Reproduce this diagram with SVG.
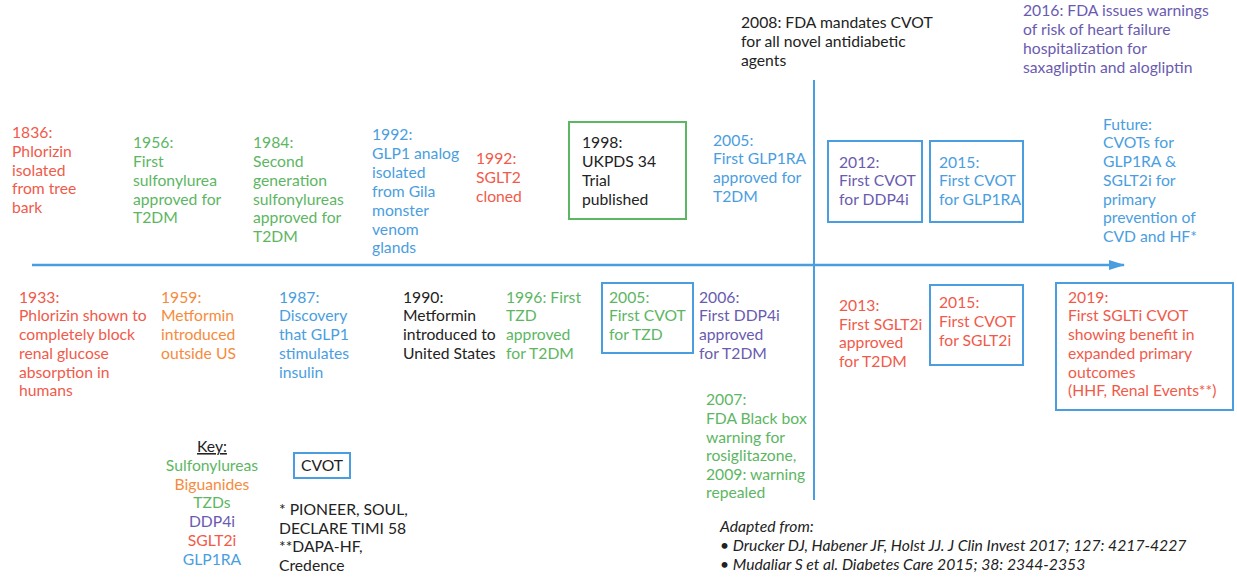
<svg xmlns="http://www.w3.org/2000/svg" width="1237" height="577" viewBox="0 0 1237 577">
<style>
text{font-family:Lato,"Noto Sans","Liberation Sans",sans-serif;font-size:15.7px}
.r{fill:#F15A4A}.g{fill:#5DB663}.o{fill:#F68B3D}.b{fill:#4A9EE0}.p{fill:#6A5BB0}.k{fill:#222}
.box{fill:none;stroke-width:2}
.bb{stroke:#4A9EE0}.gb{stroke:#5DB663}
.cit{font-style:italic;fill:#222}
</style>
<defs>
<marker id="ah" markerWidth="16" markerHeight="10" refX="15" refY="5" orient="auto" markerUnits="userSpaceOnUse">
<path d="M0,0 L16,5 L0,10 z" fill="#4A9EE0"/>
</marker>
</defs>
<rect width="1237" height="577" fill="#fff"/>
<g id="connectors">
<line x1="32" y1="265" x2="1124" y2="265" stroke="#4A9EE0" stroke-width="2.5" marker-end="url(#ah)"/>
<line x1="814" y1="80" x2="814" y2="500" stroke="#4A9EE0" stroke-width="2"/>
</g>
<g id="n1836" class="r"><text x="12" y="138">1836:</text><text x="12" y="157">Phlorizin</text><text x="12" y="176">isolated</text><text x="12" y="194">from tree</text><text x="12" y="213">bark</text></g>
<g id="n1956" class="g"><text x="133" y="148">1956:</text><text x="133" y="167">First</text><text x="133" y="186">sulfonylurea</text><text x="133" y="205">approved for</text><text x="133" y="223">T2DM</text></g>
<g id="n1984" class="g"><text x="253" y="148">1984:</text><text x="253" y="167">Second</text><text x="253" y="186">generation</text><text x="253" y="205">sulfonylureas</text><text x="253" y="223">approved for</text><text x="253" y="242">T2DM</text></g>
<g id="n1992a" class="b"><text x="372" y="140">1992:</text><text x="372" y="159">GLP1 analog</text><text x="372" y="178">isolated</text><text x="372" y="197">from Gila</text><text x="372" y="216">monster</text><text x="372" y="235">venom</text><text x="372" y="253">glands</text></g>
<g id="n1992b" class="r"><text x="476" y="164">1992:</text><text x="476" y="183">SGLT2</text><text x="476" y="202">cloned</text></g>
<g id="n1998"><rect class="box gb" x="569" y="122" width="117" height="97"/><text class="k" x="582" y="148">1998:</text><text class="k" x="582" y="167">UKPDS 34</text><text class="k" x="582" y="186">Trial</text><text class="k" x="582" y="205">published</text></g>
<g id="n2005a" class="b"><text x="713" y="146">2005:</text><text x="713" y="164">First GLP1RA</text><text x="713" y="183">approved for</text><text x="713" y="202">T2DM</text></g>
<g id="n2008" class="k"><text x="741" y="28">2008: FDA mandates CVOT</text><text x="741" y="47">for all novel antidiabetic</text><text x="741" y="66">agents</text></g>
<g id="n2016" class="p"><text x="1023" y="16">2016: FDA issues warnings</text><text x="1023" y="35">of risk of heart failure</text><text x="1023" y="54">hospitalization for</text><text x="1023" y="73">saxagliptin and alogliptin</text></g>
<g id="n2012"><rect class="box bb" x="828" y="141" width="94" height="81"/><text class="p" x="839" y="168">2012:</text><text class="p" x="839" y="186">First CVOT</text><text class="p" x="839" y="205">for DDP4i</text></g>
<g id="n2015a"><rect class="box bb" x="930" y="141" width="93" height="81"/><text class="b" x="939" y="168">2015:</text><text class="b" x="939" y="186">First CVOT</text><text class="b" x="939" y="205">for GLP1RA</text></g>
<g id="nfuture" class="b"><text x="1103" y="130">Future:</text><text x="1103" y="148">CVOTs for</text><text x="1103" y="167">GLP1RA &amp;</text><text x="1103" y="186">SGLT2i for</text><text x="1103" y="205">primary</text><text x="1103" y="223">prevention of</text><text x="1103" y="242">CVD and HF*</text></g>
<g id="n1933" class="r"><text x="19" y="303">1933:</text><text x="19" y="321">Phlorizin shown to</text><text x="19" y="340">completely block</text><text x="19" y="359">renal glucose</text><text x="19" y="378">absorption in</text><text x="19" y="396">humans</text></g>
<g id="n1959" class="o"><text x="161" y="303">1959:</text><text x="161" y="321">Metformin</text><text x="161" y="340">introduced</text><text x="161" y="359">outside US</text></g>
<g id="n1987" class="b"><text x="279" y="303">1987:</text><text x="279" y="321">Discovery</text><text x="279" y="340">that GLP1</text><text x="279" y="359">stimulates</text><text x="279" y="378">insulin</text></g>
<g id="n1990" class="k"><text x="403" y="303">1990:</text><text x="403" y="321">Metformin</text><text x="403" y="340">introduced to</text><text x="403" y="359">United States</text></g>
<g id="n1996" class="g"><text x="506" y="303">1996: First</text><text x="506" y="321">TZD</text><text x="506" y="340">approved</text><text x="506" y="359">for T2DM</text></g>
<g id="n2005b"><rect class="box bb" x="602" y="283" width="91" height="70"/><text class="g" x="609" y="303">2005:</text><text class="g" x="609" y="321">First CVOT</text><text class="g" x="609" y="340">for TZD</text></g>
<g id="n2006" class="p"><text x="699" y="303">2006:</text><text x="699" y="321">First DDP4i</text><text x="699" y="340">approved</text><text x="699" y="359">for T2DM</text></g>
<g id="n2007" class="g"><text x="706" y="405">2007:</text><text x="706" y="424">FDA Black box</text><text x="706" y="443">warning for</text><text x="706" y="461">rosiglitazone,</text><text x="706" y="480">2009: warning</text><text x="706" y="498">repealed</text></g>
<g id="n2013" class="r"><text x="839" y="311">2013:</text><text x="839" y="330">First SGLT2i</text><text x="839" y="348">approved</text><text x="839" y="367">for T2DM</text></g>
<g id="n2015b"><rect class="box bb" x="930" y="285" width="93" height="80"/><text class="r" x="939" y="308">2015:</text><text class="r" x="939" y="327">First CVOT</text><text class="r" x="939" y="346">for SGLT2i</text></g>
<g id="n2019"><rect class="box bb" x="1056" y="283" width="177" height="127"/><text class="r" x="1068" y="303">2019:</text><text class="r" x="1068" y="321">First SGLTi CVOT</text><text class="r" x="1068" y="340">showing benefit in</text><text class="r" x="1068" y="359">expanded primary</text><text class="r" x="1068" y="378">outcomes</text><text class="r" x="1068" y="396">(HHF, Renal Events**)</text></g>
<g id="key" text-anchor="middle"><text class="k" x="212" y="452" text-decoration="underline">Key:</text><text class="g" x="212" y="471">Sulfonylureas</text><text class="o" x="212" y="490">Biguanides</text><text class="g" x="212" y="508">TZDs</text><text class="p" x="212" y="527">DDP4i</text><text class="r" x="212" y="546">SGLT2i</text><text class="b" x="212" y="565">GLP1RA</text></g>
<g id="cvotkey"><rect class="box bb" x="294" y="453" width="56" height="25"/><text class="k" x="322" y="471" text-anchor="middle">CVOT</text></g>
<g id="notes" class="k"><text x="279" y="515">* PIONEER, SOUL,</text><text x="279" y="534">DECLARE TIMI 58</text><text x="279" y="552">**DAPA-HF,</text><text x="279" y="571">Credence</text></g>
<g id="citation"><text class="cit" x="720" y="532">Adapted from:</text><text class="cit" x="720" y="551">• Drucker DJ, Habener JF, Holst JJ. J Clin Invest 2017; 127: 4217-4227</text><text class="cit" x="720" y="570">• Mudaliar S et al. Diabetes Care 2015; 38: 2344-2353</text></g>
</svg>
